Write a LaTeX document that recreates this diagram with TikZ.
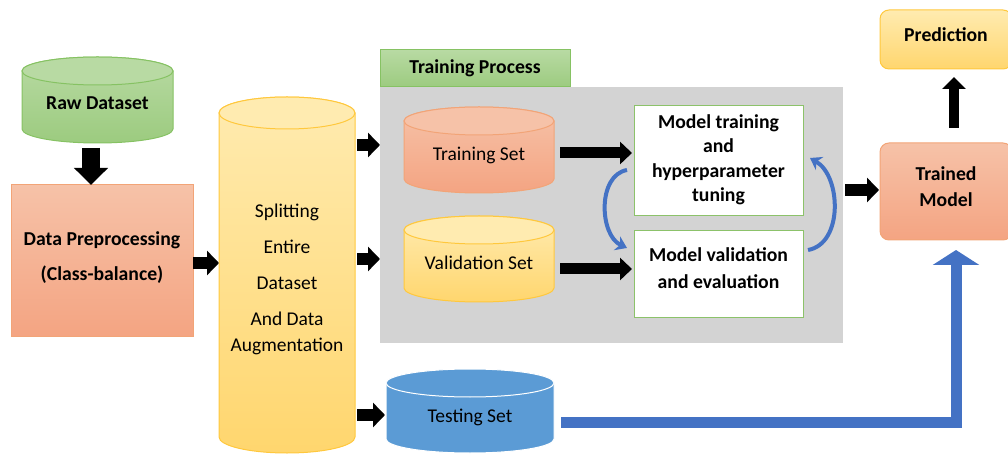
\documentclass[tikz,border=0pt]{standalone}
\usepackage{fontspec}
\setmainfont{Carlito}
\usetikzlibrary{arrows.meta,calc}
\definecolor{grn1}{HTML}{B8DAA3}
\definecolor{grn2}{HTML}{9CCB7F}
\definecolor{grnB}{HTML}{86C263}
\definecolor{sal1}{HTML}{F6C2A8}
\definecolor{sal2}{HTML}{F4A482}
\definecolor{salB}{HTML}{F2A477}
\definecolor{yel1}{HTML}{FFEBB0}
\definecolor{yel2}{HTML}{FFD66E}
\definecolor{yelB}{HTML}{FFC83D}
\definecolor{blu}{HTML}{5B9BD5}
\definecolor{arrB}{HTML}{4472C4}
\definecolor{gry}{HTML}{D3D3D3}
\definecolor{boxB}{HTML}{8CC26A}
\newcommand\drawcyl[8]{%
  \pgfmathsetmacro\cxr{(#2-#1)/2}%
  \pgfmathsetmacro\cxm{(#2+#1)/2}%
  \path[top color=#6,bottom color=#7,draw=#8,line width=1pt]
    (#1,#3) -- (#1,#4) arc[start angle=180,end angle=360,x radius=\cxr,y radius=#5]
    -- (#2,#3) arc[start angle=0,end angle=180,x radius=\cxr,y radius=#5] -- cycle;
  \path[fill=#6,draw=#8,line width=1pt] (\cxm,#3) ellipse[x radius=\cxr,y radius=#5];
}
\tikzset{
  bnd/.style={inner sep=0pt, outer sep=0pt, draw=none},
  lbl/.style={font=\fontsize{19.7}{22}\selectfont\bfseries, align=center, text=black, inner sep=0pt},
  rlbl/.style={font=\fontsize{19.5}{22}\selectfont, align=center, text=black, inner sep=0pt},
  barrow/.style={draw=black, line width=12pt, -{Triangle[length=12pt,width=24pt]}},
  darrow/.style={draw=black, line width=18pt, -{Triangle[length=17pt,width=33pt]}},
  uarrow/.style={draw=black, line width=10pt, -{Triangle[length=12pt,width=23pt]}},
  carrow/.style={draw=arrB, line width=4pt, -{Stealth[length=11pt,width=15pt]}},
}
\begin{document}
\begin{tikzpicture}[x=1pt,y=1pt]
\useasboundingbox (0,0) rectangle (1008,455);
% gray training area and tab
\node[bnd, fill=gry, minimum width=463pt, minimum height=256pt] (gray) at (611.5,240) {};
\node[bnd, top color=grn1, bottom color=grn2, draw=grnB, line width=1pt, minimum width=190pt, minimum height=37pt] (tp) at (475,386.5) {};
\node[lbl] (tptext) at (475,387) {Training Process};
% raw dataset
\drawcyl{22}{173}{384}{326}{14}{grn1}{grn2}{grnB}
\node[bnd, minimum width=151pt, minimum height=86pt] (raw) at (97.5,355) {};
\node[lbl] (rawtext) at (97.5,352) {Raw Dataset};
% data preprocessing
\node[bnd, top color=sal1, bottom color=sal2, draw=salB, line width=1pt, minimum width=182pt, minimum height=152pt] (dp) at (102,194) {};
\node[lbl, font=\fontsize{19.7}{35}\selectfont\bfseries] (dptext) at (102,197.5) {Data Preprocessing\\(Class-balance)};
% splitting cylinder
\drawcyl{219}{355}{342}{18}{16}{yel1}{yel2}{yelB}
\node[bnd, minimum width=136pt, minimum height=356pt] (split) at (287,180) {};
\node[rlbl, font=\fontsize{19.5}{36}\selectfont] (splittext) at (287,176) {Splitting\\Entire\\Dataset\\And Data\\[-10pt]Augmentation};
% training set
\drawcyl{404}{554}{334}{276}{14}{sal1}{sal2}{salB}
\node[bnd, minimum width=150pt, minimum height=86pt] (trn) at (479,305) {};
\node[rlbl] (trntext) at (479,300) {Training Set};
% validation set
\drawcyl{404}{554}{225}{167}{14}{yel1}{yel2}{yelB}
\node[bnd, minimum width=150pt, minimum height=86pt] (val) at (479,196) {};
\node[rlbl] (valtext) at (479,192) {Validation Set};
% testing set
\drawcyl{386}{554}{72}{16}{14}{blu}{blu}{white}
\node[bnd, minimum width=168pt, minimum height=84pt] (tst) at (470,44) {};
\node[rlbl] (tsttext) at (470,38) {Testing Set};
% model boxes
\node[bnd, fill=white, draw=boxB, line width=1pt, minimum width=169pt, minimum height=110pt] (mt) at (718.5,294) {};
\node[lbl, font=\fontsize{19.7}{24.5}\selectfont\bfseries] (mttext) at (718.5,295) {Model training\\and\\hyperparameter\\tuning};
\node[bnd, fill=white, draw=boxB, line width=1pt, minimum width=169pt, minimum height=87pt] (mv) at (718.5,180.5) {};
\node[lbl, font=\fontsize{19.7}{27}\selectfont\bfseries] (mvtext) at (718.5,187) {Model validation\\and evaluation};
% trained model & prediction
\node[bnd, rounded corners=9pt, top color=sal1, bottom color=sal2, draw=salB, line width=1pt, minimum width=132pt, minimum height=97pt] (tm) at (946,263.5) {};
\node[lbl, font=\fontsize{19.7}{26}\selectfont\bfseries] (tmtext) at (946,268) {Trained\\Model};
\node[bnd, rounded corners=9pt, top color=yel1, bottom color=yel2, draw=yelB, line width=1pt, minimum width=132pt, minimum height=59pt] (pred) at (946,415.5) {};
\node[lbl] (predtext) at (946,420) {Prediction};
% black arrows
\draw[darrow] ($(raw.south)+(-6.5,-5)$) -- ($(raw.south |- dp.north)+(-6.5,0)$);
\draw[barrow] ($(dp.east)+(0,-2)$) -- ($(dp.east -| split.west)+(0,-2)$);
\draw[barrow] ($(split.east |- trn.center)+(2,5)$) -- ($(gray.west |- trn.center)+(0,5)$);
\draw[barrow] ($(split.east |- val.center)+(2,0)$) -- ($(gray.west |- val.center)+(0,0)$);
\draw[barrow] ($(split.east |- tst.center)+(2,-4)$) -- ($(tst.west)+(-1,-4)$);
\draw[barrow, line width=11pt, -{Triangle[length=12pt,width=22pt]}] ($(trn.east)+(6,-3)$) -- ($(trn.east -| mt.west)+(-2,-3)$);
\draw[barrow, line width=11pt, -{Triangle[length=12pt,width=22pt]}] ($(val.east)+(6,-10)$) -- ($(val.east -| mt.west)+(-2,-10)$);
\draw[barrow] ($(gray.east |- tm.west)+(2,1.5)$) -- ($(tm.west)+(-1,1.5)$);
\draw[uarrow] ($(tm.north)+(8,15)$) -- ($(pred.south)+(8,-8)$);
% curved blue arrows
\draw[carrow] ($(mt.west)+(-7,-9)$) to[out=190,in=155] ($(mv.north west)+(-7,-17)$);
\draw[carrow] ($(mv.north east)+(5,-19)$) to[out=10,in=-30] ($(mt.east)+(7,3)$);
% blue L arrow
\draw[draw=arrB, line width=11pt, -{Triangle[length=15pt,width=46pt]}] ($(tst.east)+(7,-11.5)$) -| ($(tm.south)+(10,-10)$);
\end{tikzpicture}
\end{document}
